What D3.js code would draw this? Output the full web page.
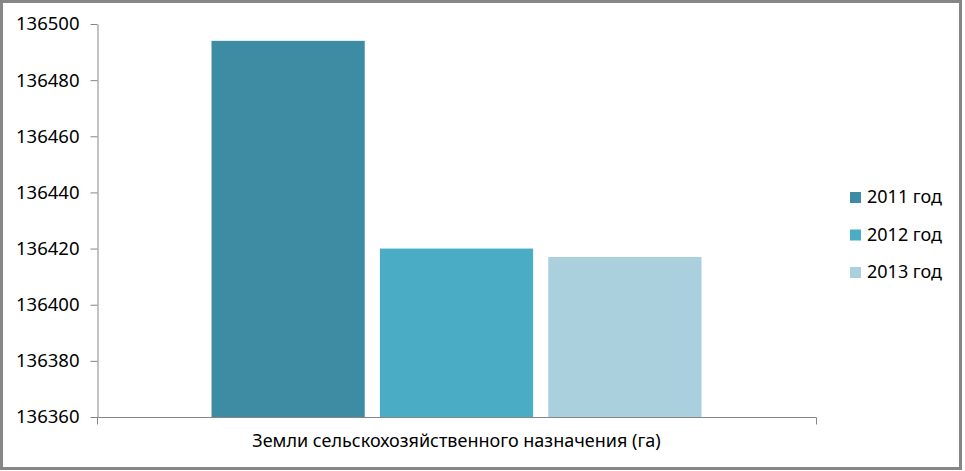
<!DOCTYPE html>
<html>
<head>
<meta charset="utf-8">
<script src="https://cdn.jsdelivr.net/npm/d3@7"></script>
<style>
  body { margin: 0; background: #fff; }
  svg text { font-family: "Noto Sans", "Liberation Sans", sans-serif; fill: #000; }
</style>
</head>
<body>
<main></main>
<script>
'use strict';

const categories = ['Земли сельскохозяйственного назначения (га)'];
const seriesNames = ['2011 год', '2012 год', '2013 год'];
const seriesValues = [136494, 136420, 136417];
const yTicks = [136360, 136380, 136400, 136420, 136440, 136460, 136480, 136500];
const colors = ['#3d8ca3', '#4bacc6', '#aacfdd'];

const W = 965, H = 471;
const plot = { left: 97, right: 816, top: 24, bottom: 417 };

const svg = d3.select('main')
  .append('svg')
  .attr('width', W)
  .attr('height', H);

// chart frame
svg.append('rect')
  .attr('x', 1.5).attr('y', 1.5)
  .attr('width', 959).attr('height', 467)
  .attr('fill', '#fff')
  .attr('stroke', '#868686')
  .attr('stroke-width', 3);

const yScale = d3.scaleLinear()
  .domain([136360, 136500])
  .range([plot.bottom, plot.top]);

const xScale = d3.scaleBand()
  .domain(categories)
  .range([plot.left, plot.right])
  .paddingOuter(0.2337);

const xInner = d3.scaleBand()
  .domain(seriesNames)
  .range([0, xScale.bandwidth()])
  .paddingInner(0.09);

// bars
const data = seriesNames.map((name, i) => ({ cat: categories[0], name, value: seriesValues[i] }));
svg.append('g')
  .selectAll('rect')
  .data(data)
  .enter()
  .append('rect')
  .attr('x', d => xScale(d.cat) + xInner(d.name))
  .attr('y', d => yScale(d.value))
  .attr('width', xInner.bandwidth())
  .attr('height', d => plot.bottom - yScale(d.value))
  .attr('fill', (d, i) => colors[i]);

// y axis
const yAxis = d3.axisLeft(yScale)
  .tickValues(yTicks)
  .tickFormat(d3.format('d'))
  .tickSize(7)
  .tickSizeOuter(0)
  .tickPadding(11);

const gy = svg.append('g')
  .attr('transform', `translate(${plot.left + 0.5},0)`)
  .call(yAxis);
gy.selectAll('line, path').attr('stroke', '#868686');
gy.selectAll('text').style('font-size', '18.5px');

// x axis line with ticks at category boundaries
const gx = svg.append('g').attr('transform', `translate(0,${plot.bottom + 0.5})`);
gx.append('line')
  .attr('x1', plot.left).attr('x2', plot.right + 0.5)
  .attr('stroke', '#868686');
gx.selectAll('.edge')
  .data([plot.left, plot.right])
  .enter()
  .append('line')
  .attr('x1', d => d + 0.5).attr('x2', d => d + 0.5)
  .attr('y1', 0).attr('y2', 7)
  .attr('stroke', '#868686');
gx.selectAll('.cat')
  .data(categories)
  .enter()
  .append('text')
  .attr('x', d => xScale(d) + xScale.bandwidth() / 2)
  .attr('y', 29)
  .attr('text-anchor', 'middle')
  .style('font-size', '18px')
  .text(d => d);

// legend
const legend = svg.append('g').attr('transform', 'translate(850,197)');
const rows = legend.selectAll('g')
  .data(seriesNames)
  .enter()
  .append('g')
  .attr('transform', (d, i) => `translate(0,${i * 37.5})`);
rows.append('rect')
  .attr('x', 0).attr('y', -5)
  .attr('width', 11).attr('height', 11)
  .attr('fill', (d, i) => colors[i]);
rows.append('text')
  .attr('x', 17)
  .attr('y', 0)
  .attr('dy', '0.35em')
  .style('font-size', '18px')
  .text(d => d);
</script>
</body>
</html>
